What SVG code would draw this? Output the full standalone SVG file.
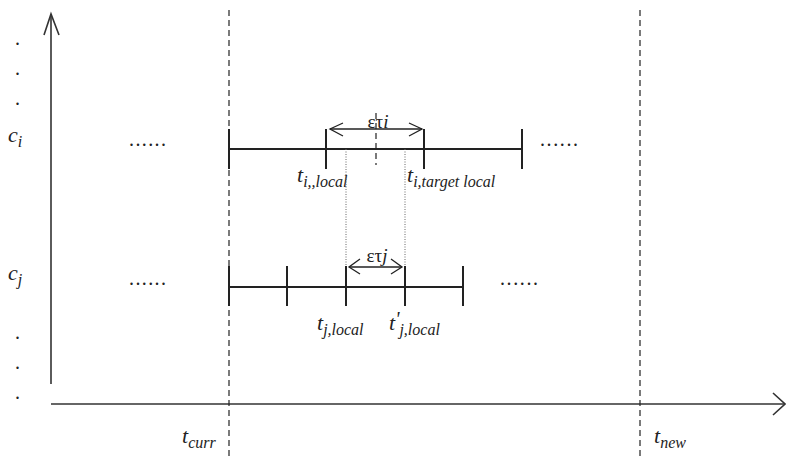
<svg xmlns="http://www.w3.org/2000/svg" width="786" height="457" viewBox="0 0 786 457">
<style>
.ax{stroke:#333;stroke-width:1.6;fill:none}
.ln{stroke:#222;stroke-width:2;fill:none}
.dash{stroke:#222;stroke-width:1.2;stroke-dasharray:6 4;fill:none}
.dot{stroke:#666;stroke-width:1;stroke-dasharray:1 1.5;fill:none}
.arr{stroke:#222;stroke-width:1.3;fill:none}
text{font-family:"Liberation Serif","Times New Roman",serif;fill:#222}
.it{font-style:italic;font-size:22px}
.sub{font-size:16px}
.eps{font-size:19px}
.dots{font-size:20px}
</style>
<rect width="786" height="457" fill="#fff"/>
<g id="axes">
<line class="ax" x1="51" y1="384" x2="51" y2="14"/>
<polyline class="ax" points="44,35 51,14 59,35"/>
<line class="ax" x1="51" y1="404" x2="784" y2="404"/>
<polyline class="ax" points="773,393 785,404 773,415"/>
</g>
<g id="time-markers">
<line class="dash" x1="229" y1="10" x2="229" y2="457"/>
<line class="dash" x1="640" y1="10" x2="640" y2="457"/>
<text class="it" x="182" y="443">t<tspan class="sub" dy="5">curr</tspan></text>
<text class="it" x="654" y="443">t<tspan class="sub" dy="5">new</tspan></text>
</g>
<g id="vertical-dots">
<text class="dots" x="15" y="45">.</text>
<text class="dots" x="15" y="75">.</text>
<text class="dots" x="15" y="105">.</text>
<text class="dots" x="15" y="339">.</text>
<text class="dots" x="15" y="369">.</text>
<text class="dots" x="15" y="399">.</text>
</g>
<g id="row-ci">
<text class="it" x="8" y="142">c<tspan class="sub" dy="5">i</tspan></text>
<text class="dots" x="129" y="146" textLength="37" lengthAdjust="spacing">......</text>
<line class="ln" x1="229" y1="149" x2="522" y2="149"/>
<line class="ln" x1="229" y1="129" x2="229" y2="169"/>
<line class="ln" x1="326" y1="129" x2="326" y2="169"/>
<line class="ln" x1="424" y1="129" x2="424" y2="169"/>
<line class="ln" x1="522" y1="129" x2="522" y2="169"/>
<text class="dots" x="540" y="146" textLength="38" lengthAdjust="spacing">......</text>
<line class="dash" x1="376" y1="113" x2="376" y2="165"/>
<line class="arr" x1="330" y1="129" x2="422" y2="129"/>
<polyline class="arr" points="343,123 330,129 343,136"/>
<polyline class="arr" points="409,123 422,129 409,136"/>
<text class="eps" x="378" y="128" text-anchor="middle">ετ<tspan font-style="italic">i</tspan></text>
<text class="it" x="297" y="182">t<tspan class="sub" dy="5">i,,local</tspan></text>
<text class="it" x="407" y="182">t<tspan class="sub" dy="5">i,target local</tspan></text>
</g>
<g id="connectors">
<line class="dot" x1="346" y1="149" x2="346" y2="287"/>
<line class="dot" x1="405" y1="149" x2="405" y2="287"/>
</g>
<g id="row-cj">
<text class="it" x="8" y="280">c<tspan class="sub" dy="5">j</tspan></text>
<text class="dots" x="129" y="285" textLength="37" lengthAdjust="spacing">......</text>
<line class="ln" x1="229" y1="287" x2="463" y2="287"/>
<line class="ln" x1="229" y1="266" x2="229" y2="306"/>
<line class="ln" x1="287" y1="266" x2="287" y2="306"/>
<line class="ln" x1="346" y1="266" x2="346" y2="306"/>
<line class="ln" x1="405" y1="266" x2="405" y2="306"/>
<line class="ln" x1="463" y1="266" x2="463" y2="306"/>
<text class="dots" x="500" y="285" textLength="38" lengthAdjust="spacing">......</text>
<line class="arr" x1="349" y1="267" x2="402" y2="267"/>
<polyline class="arr" points="360,259 349,267 360,274"/>
<polyline class="arr" points="391,259 402,267 391,274"/>
<text class="eps" x="377" y="262" text-anchor="middle">ετ<tspan font-style="italic">j</tspan></text>
<text class="it" x="317" y="330">t<tspan class="sub" dy="5">j,local</tspan></text>
<text class="it" x="389" y="330">t<tspan font-size="20px" dy="-4">'</tspan><tspan class="sub" dy="9">j,local</tspan></text>
</g>
</svg>
